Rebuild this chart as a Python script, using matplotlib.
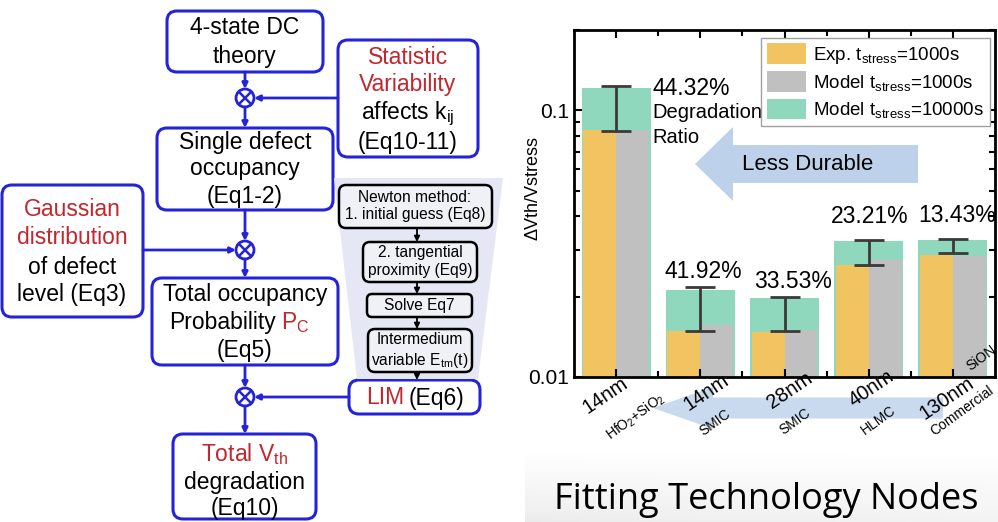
import numpy as np
import matplotlib.pyplot as plt
from matplotlib.patches import FancyBboxPatch, Circle, Polygon, FancyArrow
from matplotlib import transforms

plt.rcParams['font.family'] = ['Liberation Sans', 'DejaVu Sans']
plt.rcParams['mathtext.default'] = 'regular'

# --- bar chart data ---
nodes = ['14nm', '14nm', '28nm', '40nm', '130nm']
makers = ['HfO$_2$+SiO$_2$', 'SMIC', 'SMIC', 'HLMC', 'Commercial']
exp_1000 = [0.0841, 0.0149, 0.0148, 0.0263, 0.0287]
model_1000 = [0.0841, 0.0157, 0.0150, 0.0274, 0.0284]
model_10000 = [0.1212, 0.0212, 0.0198, 0.0323, 0.0326]
err_lo = [0.0834, 0.0149, 0.0149, 0.0263, 0.0291]
err_hi = [0.1230, 0.0217, 0.0200, 0.0326, 0.0329]
ratios = ['44.32%', '41.92%', '33.53%', '23.21%', '13.43%']

BLUE = '#2424d6'
RED = '#c1272d'

fig = plt.figure(figsize=(9.98, 5.22), dpi=100)

# background layer in pixel units (flowchart + decorations)
bg = fig.add_axes([0, 0, 1, 1], zorder=0)

# grey band behind the caption
grad = np.linspace(0, 1, 60)[:, None] * np.ones((1, 200))
grad = grad * 0.10 + np.linspace(0.05, 0, 200)[None, :] * grad
bg.imshow(grad, extent=(525, 998, 522, 452), cmap='Greys', vmin=0, vmax=1,
          aspect='auto', interpolation='bilinear')


def box(x0, y0, x1, y1, ec=BLUE, fc='white', lw=2.2, r=10):
    bg.add_patch(FancyBboxPatch((x0, y0), x1 - x0, y1 - y0,
                                boxstyle='round,pad=0,rounding_size=%d' % r,
                                ec=ec, fc=fc, lw=lw))


def lines(x, items, fs=16.5):
    for y, s, c in items:
        bg.text(x, y, s, color=c, fontsize=fs, ha='center', va='center')


def otimes(x, y, r=9):
    bg.add_patch(Circle((x, y), r, fc='white', ec=BLUE, lw=2))
    d = r * 0.68
    bg.plot([x - d, x + d], [y - d, y + d], color=BLUE, lw=1.8)
    bg.plot([x - d, x + d], [y + d, y - d], color=BLUE, lw=1.8)


def arrow(p0, p1, c=BLUE, lw=2.0):
    bg.annotate('', xy=p1, xytext=p0,
                arrowprops=dict(arrowstyle='-|>', color=c, lw=lw,
                                mutation_scale=8, shrinkA=0, shrinkB=0))


# flowchart boxes
box(167, 11, 323, 72)
lines(245, [(28, '4-state DC', 'k'), (56, 'theory', 'k')])

box(338, 40, 478, 157)
lines(408, [(57, 'Statistic', RED), (85, 'Variability', RED),
            (114, 'affects k$_{ij}$', 'k'), (142, '(Eq10-11)', 'k')])

box(157, 128, 333, 210)
lines(245, [(142, 'Single defect', 'k'), (169, 'occupancy', 'k'),
            (197, '(Eq1-2)', 'k')])

box(2, 185, 143, 317)
lines(72, [(210, 'Gaussian', RED), (238, 'distribution', RED),
           (267, 'of defect', 'k'), (295, 'level (Eq3)', 'k')])

box(152, 278, 338, 365)
lines(245, [(295, 'Total occupancy', 'k'), (351, '(Eq5)', 'k')])
bg.text(276, 323, 'Probability', fontsize=16.5, ha='right', va='center')
bg.text(281, 323, 'P$_C$', fontsize=16.5, ha='left', va='center', color=RED)

box(349, 380, 480, 414)
bg.text(404, 398, 'LIM', fontsize=16.5, ha='right', va='center', color=RED)
bg.text(409, 398, '(Eq6)', fontsize=16.5, ha='left', va='center')

box(173, 434, 316, 519)
lines(245, [(454, 'Total V$_{th}$', RED), (482, 'degradation', 'k'),
            (508, '(Eq10)', 'k')])

otimes(245, 98)
otimes(245, 250)
otimes(245, 397)

arrow((245, 72), (245, 89))
arrow((245, 107), (245, 128))
arrow((338, 98), (254, 98))
arrow((245, 210), (245, 241))
arrow((143, 250), (236, 250))
arrow((245, 259), (245, 278))
arrow((245, 365), (245, 388))
arrow((349, 397), (254, 397))
arrow((245, 406), (245, 434))

# Newton method panel
bg.add_patch(Polygon([(334, 178), (503, 178), (478, 379), (357, 379)],
                     closed=True, fc='#e6e7f5', ec='none'))
box(339, 185, 492, 228, ec='k', fc='#f0f0f7', lw=1.8, r=7)
bg.text(415, 206, 'Newton method:\n1. initial guess (Eq8)', fontsize=11.2,
        ha='center', va='center', linespacing=1.25)
box(363, 242, 477, 282, ec='k', fc='#f0f0f7', lw=1.8, r=7)
bg.text(420, 262, '2. tangential\nproximity (Eq9)', fontsize=11.2,
        ha='center', va='center', linespacing=1.25)
box(367, 294, 472, 317, ec='k', fc='#f0f0f7', lw=1.8, r=5)
bg.text(419, 305.5, 'Solve Eq7', fontsize=11.2, ha='center', va='center')
box(368, 329, 472, 372, ec='k', fc='#f0f0f7', lw=1.8, r=7)
bg.text(420, 340, 'Intermedium', fontsize=11.2, ha='center', va='center')
bg.text(420, 360, 'variable E$_{tm}$(t)', fontsize=11.2, ha='center', va='center')
for y0, y1 in [(228, 242), (282, 294), (317, 329), (372, 380)]:
    arrow((417, y0), (417, y1), c='k', lw=1.3)

# big light-blue arrows
bg.add_patch(FancyArrow(918, 164, -223, 0, width=38, head_width=74,
                        head_length=38, length_includes_head=True,
                        fc='#bdd1ea', ec='none'))
bg.text(808, 165, 'Less Durable', fontsize=16, ha='center', va='center')
bg.add_patch(FancyArrow(943, 408, -290, 0, width=21, head_width=42,
                        head_length=60, length_includes_head=True,
                        fc='#c9daee', ec='none'))

bg.text(766, 500, 'Fitting Technology Nodes', fontsize=26,
        family=['Open Sans', 'DejaVu Sans'], ha='center', va='center')

bg.set_xlim(0, 998)
bg.set_ylim(522, 0)
bg.axis('off')

# --- bar chart ---
ax = fig.add_axes([574 / 998, 1 - 377 / 522, 421 / 998, 347 / 522], zorder=1)
ax.patch.set_alpha(0)
ax.set_yscale('log')
x = np.arange(len(nodes))
ax.bar(x, model_10000, width=0.82, color='#8fd7bd',
       label='Model t$_{stress}$=10000s')
ax.bar(x - 0.195, exp_1000, width=0.39, color='#f1c461',
       label='Exp. t$_{stress}$=1000s')
ax.bar(x + 0.195, model_1000, width=0.39, color='#c1c0c0',
       label='Model t$_{stress}$=1000s')
ax.errorbar(x, err_hi, yerr=[np.subtract(err_hi, err_lo), np.zeros(len(x))],
            fmt='none', ecolor='#3a3a3a', elinewidth=2, capsize=11, capthick=2)

ax.set_xlim(-0.5, 4.5)
ax.set_ylim(0.01, 0.2)
ax.set_yticks([0.01, 0.1])
ax.set_yticklabels(['0.01', '0.1'])
ax.set_xticks(x)
ax.set_xticklabels([])
ax.set_xticks(x[:-1] + 0.5, minor=True)
ax.tick_params(which='both', direction='in', top=True, right=True,
               labelsize=15, width=1.5)
ax.tick_params(which='major', length=6)
ax.tick_params(which='minor', length=4)
for s in ax.spines.values():
    s.set_linewidth(2)

ax.set_ylabel('ΔVth/Vstress', fontsize=13)
ax.yaxis.set_label_coords(-0.078, 0.545)

h, l = ax.get_legend_handles_labels()
leg = ax.legend([h[1], h[2], h[0]], [l[1], l[2], l[0]], loc='upper right',
                bbox_to_anchor=(0.988, 0.978), borderaxespad=0, fontsize=13.5,
                fancybox=False, edgecolor='#a0a0a0', framealpha=1,
                handlelength=2.1, handleheight=1.3, labelspacing=0.3,
                handletextpad=0.4, borderpad=0.3)
leg.get_frame().set_linewidth(1)

# ratio labels
ax.text(0.43, 0.1209, ratios[0], fontsize=16.5, ha='left', va='center')
ax.text(0.43, 0.0983, 'Degradation', fontsize=14.5, ha='left', va='center')
ax.text(0.43, 0.0792, 'Ratio', fontsize=14.5, ha='left', va='center')
lab_dy = [0, 3, 3, 9, 9]
lab_dx = [0, 2, 6, 1, 3]
for i in range(1, len(x)):
    ax.annotate(ratios[i], (x[i], err_hi[i]), xytext=(lab_dx[i], lab_dy[i]),
                textcoords='offset points', fontsize=16.5, ha='center',
                va='bottom')

# rotated category labels
tr = transforms.blended_transform_factory(ax.transData, ax.transAxes)
node_dx = [0.06, 0.26, 0.25, 0.21, 0.17]
node_y = [0.01, 0.02, 0.025, 0.03, 0.01]
maker_dx = [0.5, 0.29, 0.24, 0.25, 0.42]
maker_y = [-0.037, -0.086, -0.084, -0.075, -0.017]
for i in range(len(x)):
    ax.text(x[i] + node_dx[i], node_y[i], nodes[i], transform=tr, rotation=34,
            rotation_mode='anchor', ha='right', va='top', fontsize=14.5,
            clip_on=False)
    ax.text(x[i] + maker_dx[i], maker_y[i], makers[i], transform=tr,
            rotation=36, rotation_mode='anchor', ha='right', va='top',
            fontsize=10, clip_on=False)
ax.text(4.45, 0.1, 'SiON', transform=tr, rotation=36, rotation_mode='anchor',
        ha='right', va='top', fontsize=10, clip_on=False)

fig.savefig('out.png', dpi=100)
